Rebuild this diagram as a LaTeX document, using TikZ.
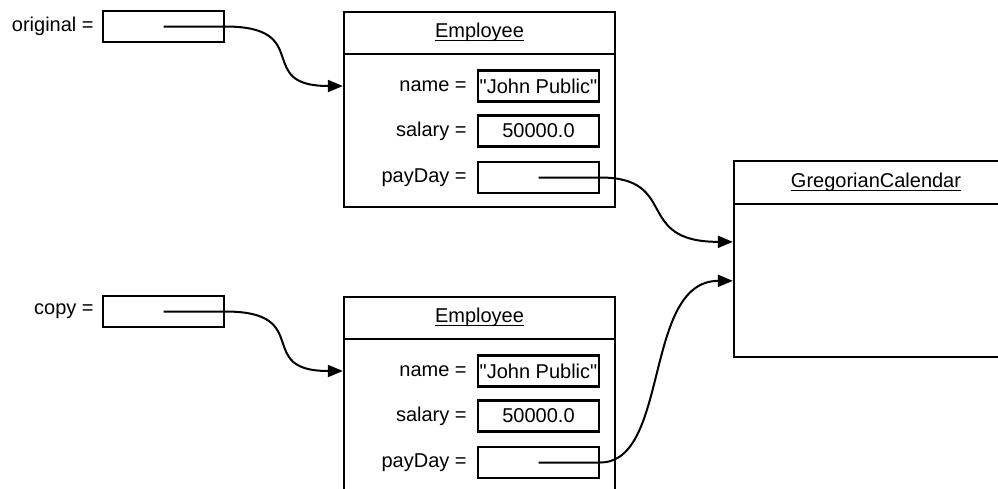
\documentclass[tikz,border=0pt]{standalone}
\usepackage{amsmath}
\usepackage{fontspec}
\setmainfont{Liberation Sans}
\usepackage{tikz}
\usetikzlibrary{calc,positioning,arrows.meta}
\newcommand{\classname}[1]{\underline{\smash[b]{#1}}}
\tikzset{
  every node/.style={font=\fontsize{20}{24}\selectfont},
  objframe/.style={draw=black,line width=2.3pt,inner sep=0pt},
  refbox/.style={draw=black,line width=2.3pt,minimum width=121pt,minimum height=31pt,inner sep=0pt},
  fieldlabel/.style={inner sep=0pt},
  refarrow/.style={black,line width=2pt,-{Triangle[length=15pt,width=12pt]}}
}

\begin{document}
\begin{tikzpicture}[x=1pt,y=-1pt]
\useasboundingbox (0,0) rectangle (998,488);
\clip (0,0) rectangle (998,488);
% variables on the left
\node[refbox] (orig) at (163.5,26.5) {};
\node[fieldlabel,left=8pt of orig] (origlbl) {original =};
\node[refbox] (copy) at (163.5,311.5) {};
\node[fieldlabel,left=8pt of copy] (copylbl) {copy =};
% first Employee object
\node[objframe,minimum width=271pt,minimum height=195pt] (emp1) at (479.5,109.5) {};
\draw[objframe] ($(emp1.north west)+(0,43)$) -- ($(emp1.north east)+(0,43)$);
\node (emp1title) at ($(emp1.north)+(0,21)$) {\classname{Employee}};
\node[refbox] (emp1name) at (538.5,86) {\textquotedbl John Public\textquotedbl};
\node[fieldlabel,left=10pt of emp1name] (emp1namelbl) {name =};
\node[refbox] (emp1sal) at (538.5,131) {50000.0};
\node[fieldlabel,left=10pt of emp1sal] (emp1sallbl) {salary =};
\node[refbox] (emp1pay) at (538.5,177.5) {};
\node[fieldlabel,left=10pt of emp1pay] (emp1paylbl) {payDay =};
% second Employee object
\node[objframe,minimum width=271pt,minimum height=195pt] (emp2) at (479.5,394.5) {};
\draw[objframe] ($(emp2.north west)+(0,43)$) -- ($(emp2.north east)+(0,43)$);
\node (emp2title) at ($(emp2.north)+(0,21)$) {\classname{Employee}};
\node[refbox] (emp2name) at (538.5,371) {\textquotedbl John Public\textquotedbl};
\node[fieldlabel,left=10pt of emp2name] (emp2namelbl) {name =};
\node[refbox] (emp2sal) at (538.5,416) {50000.0};
\node[fieldlabel,left=10pt of emp2sal] (emp2sallbl) {salary =};
\node[refbox] (emp2pay) at (538.5,462.5) {};
\node[fieldlabel,left=10pt of emp2pay] (emp2paylbl) {payDay =};
% shared GregorianCalendar object
\node[objframe,minimum width=284pt,minimum height=196pt] (greg) at (876,259) {};
\draw[objframe] ($(greg.north west)+(0,44)$) -- ($(greg.north east)+(0,44)$);
\node (gregtitle) at ($(greg.north)+(0,22)$) {\classname{GregorianCalendar}};
\coordinate (gregin1) at ($(greg.north west)+(0,82)$);
\coordinate (gregin2) at ($(greg.north west)+(0,121)$);
% references
\draw[refarrow] (orig.center) -- (orig.east) .. controls +(90,0) and +(-90,0) .. (emp1.west |- emp1name);
\draw[refarrow] (copy.center) -- (copy.east) .. controls +(90,0) and +(-90,0) .. (emp2.west |- emp2name);
\draw[refarrow] (emp1pay.center) -- (emp1pay.east) .. controls +(80,0) and +(-100,0) .. (gregin1);
\draw[refarrow] (emp2pay.center) -- (emp2pay.east) .. controls +(70,0) and +(-90,0) .. (gregin2);
\end{tikzpicture}
\end{document}
